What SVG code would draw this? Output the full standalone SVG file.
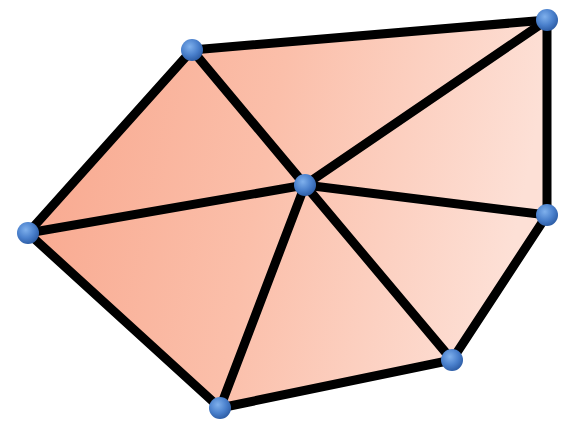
<svg xmlns="http://www.w3.org/2000/svg" width="564" height="434" viewBox="0 0 564 434">
<defs>
<linearGradient id="fill" x1="0" y1="0" x2="1" y2="0.15">
<stop offset="0" stop-color="#f8a68c"/>
<stop offset="0.5" stop-color="#fbbfaa"/>
<stop offset="1" stop-color="#fde0d6"/>
</linearGradient>
<radialGradient id="ball" cx="0.4" cy="0.35" r="0.65">
<stop offset="0" stop-color="#7fb0ec"/>
<stop offset="0.6" stop-color="#4a80cc"/>
<stop offset="1" stop-color="#2f5fa8"/>
</radialGradient>
<filter id="sh" x="-20%" y="-20%" width="140%" height="140%">
<feGaussianBlur stdDeviation="1.5"/>
</filter>
<style>
.e{stroke:#000;stroke-width:9;stroke-linecap:round;fill:none}
.n{fill:url(#ball)}
</style>
</defs>
<rect width="564" height="434" fill="#ffffff"/>
<polygon points="192,50 547,20 547,215 452,360 220,408 28,233" fill="url(#fill)"/>
<g id="connectors">
<line class="e" x1="192" y1="50" x2="547" y2="20"/>
<line class="e" x1="547" y1="20" x2="547" y2="215"/>
<line class="e" x1="547" y1="215" x2="452" y2="360"/>
<line class="e" x1="452" y1="360" x2="220" y2="408"/>
<line class="e" x1="220" y1="408" x2="28" y2="233"/>
<line class="e" x1="28" y1="233" x2="192" y2="50"/>
<line class="e" x1="305" y1="185" x2="192" y2="50"/>
<line class="e" x1="305" y1="185" x2="547" y2="20"/>
<line class="e" x1="305" y1="185" x2="547" y2="215"/>
<line class="e" x1="305" y1="185" x2="452" y2="360"/>
<line class="e" x1="305" y1="185" x2="220" y2="408"/>
<line class="e" x1="305" y1="185" x2="28" y2="233"/>
</g>
<g id="nodeA"><circle class="n" cx="192" cy="50" r="11"/></g>
<g id="nodeB"><circle class="n" cx="547" cy="20" r="11"/></g>
<g id="nodeC"><circle class="n" cx="547" cy="215" r="11"/></g>
<g id="nodeD"><circle class="n" cx="452" cy="360" r="11"/></g>
<g id="nodeE"><circle class="n" cx="220" cy="408" r="11"/></g>
<g id="nodeF"><circle class="n" cx="28" cy="233" r="11"/></g>
<g id="nodeO"><circle class="n" cx="305" cy="185" r="11"/></g>
</svg>
